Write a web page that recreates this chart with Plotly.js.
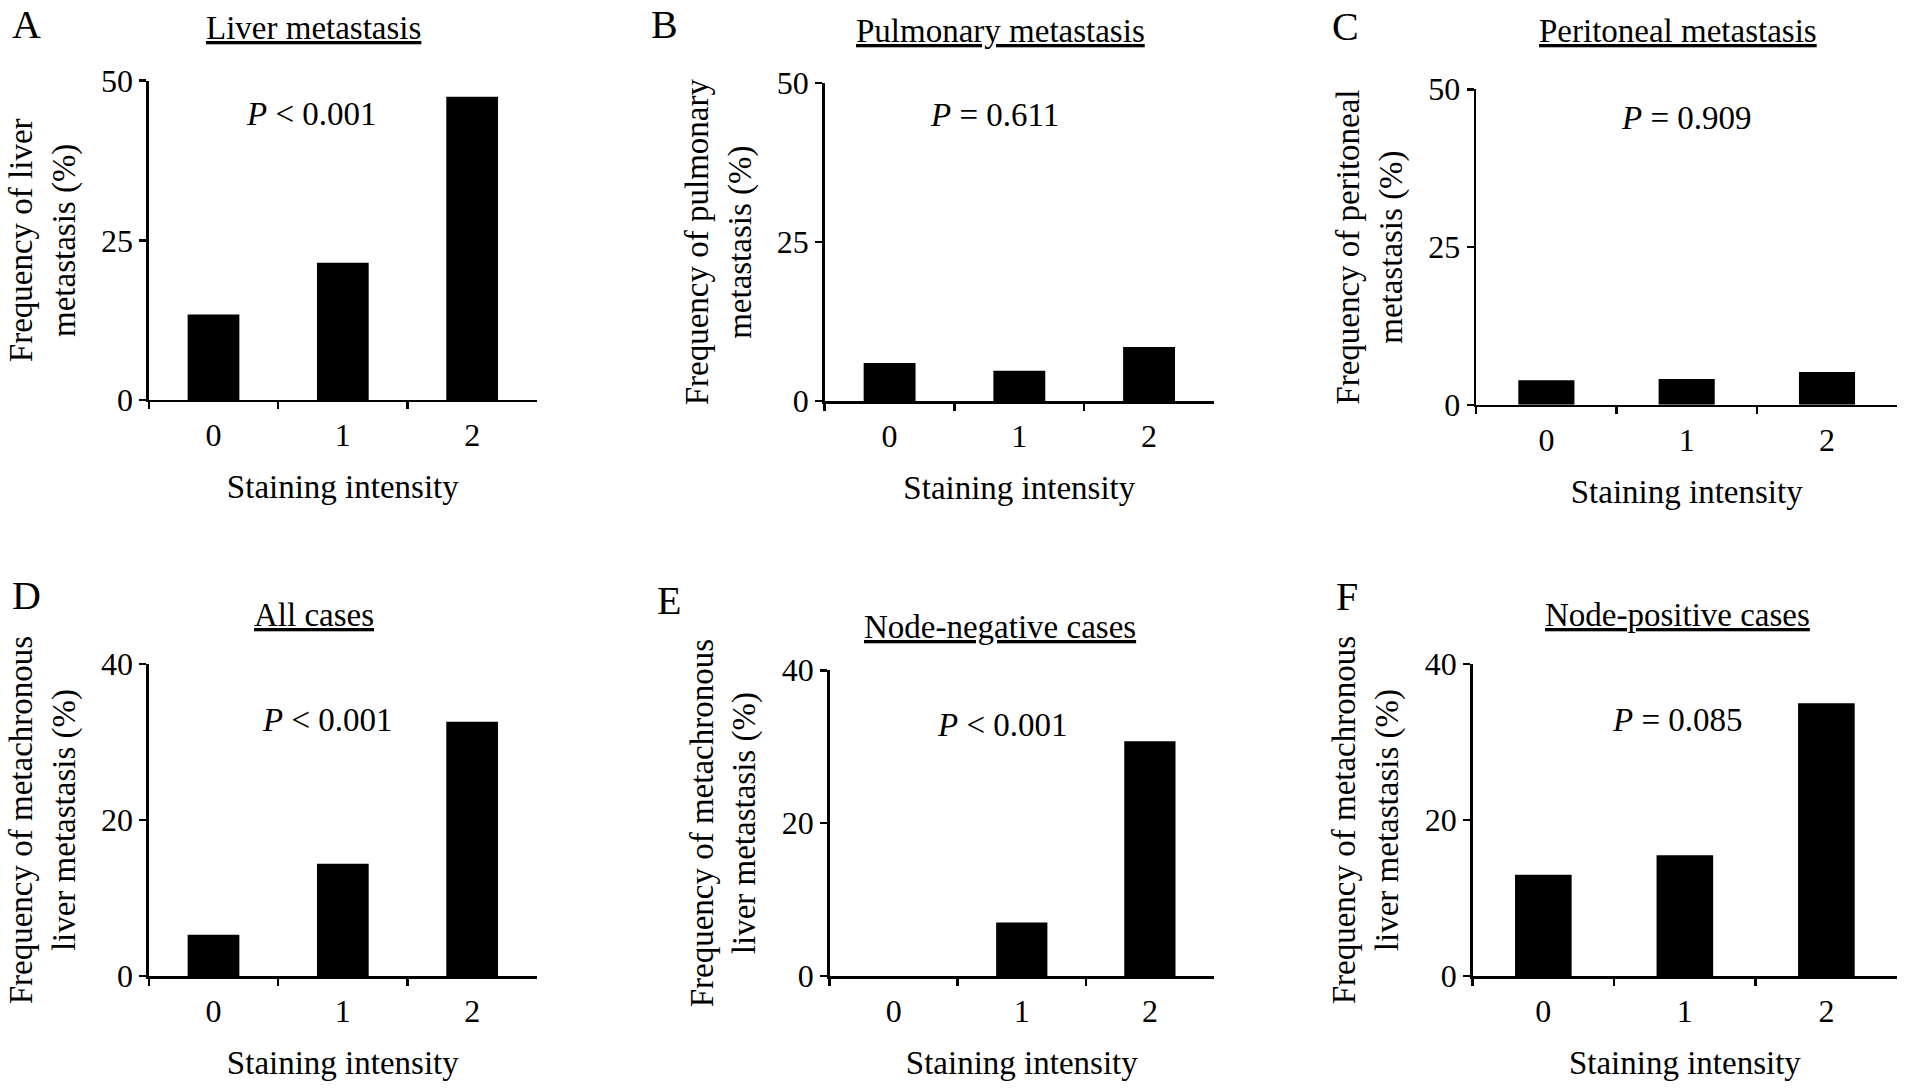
<!DOCTYPE html>
<html>
<head>
<meta charset="utf-8">
<script src="https://cdn.plot.ly/plotly-3.0.1.min.js"></script>
<style>
  html, body { margin: 0; padding: 0; background: #fff; }
  #myDiv { width: 1913px; height: 1091px; }
</style>
</head>
<body>
<div id="myDiv"></div>
<script>
// staining intensity levels
var intensity = [0, 1, 2];
var intensityLabels = ['0', '1', '2'];

// frequency (%) per panel
var liverMet = [13.4, 21.5, 47.5];
var pulmonaryMet = [6.0, 4.8, 8.5];
var peritonealMet = [3.9, 4.1, 5.2];
var allCases = [5.3, 14.4, 32.6];
var nodeNegative = [0, 7.0, 30.7];
var nodePositive = [13.0, 15.5, 35.0];

var panelLetters = ['A', 'B', 'C', 'D', 'E', 'F'];
var panelTitles = ['Liver metastasis', 'Pulmonary metastasis', 'Peritoneal metastasis',
                   'All cases', 'Node-negative cases', 'Node-positive cases'];
var yTitles = ['Frequency of liver<br>metastasis (%)',
               'Frequency of pulmonary<br>metastasis (%)',
               'Frequency of peritoneal<br>metastasis (%)',
               'Frequency of metachronous<br>liver metastasis (%)',
               'Frequency of metachronous<br>liver metastasis (%)',
               'Frequency of metachronous<br>liver metastasis (%)'];
var pTexts = ['<i>P</i> < 0.001', '<i>P</i> = 0.611', '<i>P</i> = 0.909',
              '<i>P</i> < 0.001', '<i>P</i> < 0.001', '<i>P</i> = 0.085'];
var yMax = [50, 50, 50, 40, 40, 40];
var yStep = [25, 25, 25, 20, 20, 20];

var series = [liverMet, pulmonaryMet, peritonealMet, allCases, nodeNegative, nodePositive];

// layout geometry, measured on a 1568x892 view of the figure
var W = 1568, H = 892;
var xDom = [[122, 440], [676, 995], [1210, 1555], [122, 440], [680, 995], [1207, 1555]];
var yDom = [[327, 66], [328, 68], [331, 73], [798, 543], [798, 548], [798, 543]];
var pPos = [[0.76, 44.8], [0.81, 45], [1.0, 45.5], [0.88, 32.9], [0.85, 32.8], [0.95, 32.9]];
var letterPos = [[22, 20], [545, 20], [1103, 22], [22, 487], [548, 491], [1104, 488]];
var titlePos = [[257, 23], [820, 25], [1375, 25], [257, 503], [820, 513], [1375, 503]];

var font = 'Liberation Serif, Times New Roman, serif';
var data = [];
var layout = {
  width: 1913, height: 1091,
  margin: {l: 0, r: 0, t: 0, b: 0},
  paper_bgcolor: '#fff', plot_bgcolor: '#fff',
  showlegend: false,
  bargap: 0.6,
  font: {family: font, color: '#000', size: 30},
  annotations: []
};

for (var i = 0; i < 6; i++) {
  var n = i === 0 ? '' : String(i + 1);
  data.push({
    type: 'bar',
    x: intensity,
    y: series[i],
    xaxis: 'x' + n,
    yaxis: 'y' + n,
    marker: {color: '#000', line: {width: 0}},
    hoverinfo: 'none'
  });
  layout['xaxis' + n] = {
    domain: [xDom[i][0] / W, xDom[i][1] / W],
    anchor: 'y' + n,
    range: [-0.5, 2.5],
    tickvals: intensity, ticktext: intensityLabels,
    showline: true, linecolor: '#000', linewidth: 2.5,
    ticks: 'outside', ticklen: 0, ticklabelstandoff: 5,
    minor: {tickvals: [-0.5, 0.5, 1.5], ticks: 'outside', ticklen: 7, tickwidth: 2.5, tickcolor: '#000', showgrid: false},
    showgrid: false, zeroline: false,
    tickfont: {size: 32},
    title: {text: 'Staining intensity', font: {size: 33}, standoff: 23},
    fixedrange: true
  };
  layout['yaxis' + n] = {
    domain: [1 - yDom[i][0] / H, 1 - yDom[i][1] / H],
    anchor: 'x' + n,
    range: [0, yMax[i]],
    dtick: yStep[i],
    showline: true, linecolor: '#000', linewidth: 2.5,
    ticks: 'outside', ticklen: 7, tickwidth: 2.5, tickcolor: '#000',
    showgrid: false, zeroline: false,
    tickfont: {size: 32},
    title: {text: yTitles[i], font: {size: 33}, standoff: 16},
    fixedrange: true
  };
  layout.annotations.push({
    xref: 'x' + n, yref: 'y' + n, x: pPos[i][0], y: pPos[i][1],
    xanchor: 'center', yanchor: 'middle',
    text: pTexts[i], showarrow: false, font: {size: 33}
  });
  layout.annotations.push({
    xref: 'paper', yref: 'paper', x: letterPos[i][0] / W, y: 1 - letterPos[i][1] / H,
    xanchor: 'center', yanchor: 'middle',
    text: panelLetters[i], showarrow: false, font: {size: 40}
  });
  layout.annotations.push({
    xref: 'paper', yref: 'paper', x: titlePos[i][0] / W, y: 1 - titlePos[i][1] / H,
    xanchor: 'center', yanchor: 'middle',
    text: '<u>' + panelTitles[i] + '</u>', showarrow: false, font: {size: 33}
  });
}

Plotly.newPlot('myDiv', data, layout, {staticPlot: true});
</script>
</body>
</html>
